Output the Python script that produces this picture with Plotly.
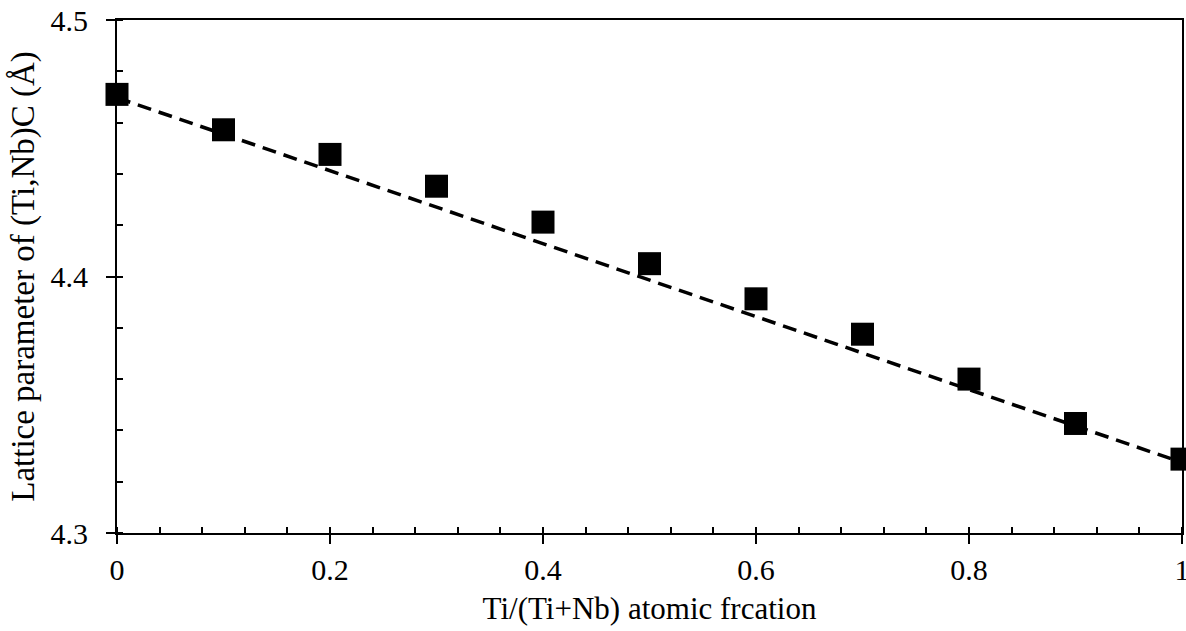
import plotly.graph_objects as go

# Data
ti_fraction = [0.0, 0.1, 0.2, 0.3, 0.4, 0.5, 0.6, 0.7, 0.8, 0.9, 1.0]
lattice_param = [4.4710, 4.4572, 4.4476, 4.4352, 4.4212, 4.4050, 4.3913, 4.3775, 4.3600, 4.3427, 4.3288]

# Dashed reference line (Vegard's law between end members)
vegard_x = [0.0, 1.0]
vegard_y = [4.4697, 4.3275]

# Tick values
x_ticks = [0, 0.2, 0.4, 0.6, 0.8, 1]
x_ticktext = ["0", "0.2", "0.4", "0.6", "0.8", "1"]
y_ticks = [4.3, 4.4, 4.5]
y_ticktext = ["4.3", "4.4", "4.5"]

FONT = "Liberation Serif"
BLACK = "#000000"

fig = go.Figure()

fig.add_trace(go.Scatter(
    x=vegard_x, y=vegard_y, mode="lines",
    line=dict(color=BLACK, width=3.5, dash="14px,8px"),
    showlegend=False, hoverinfo="skip",
))

fig.add_trace(go.Scatter(
    x=ti_fraction, y=lattice_param, mode="markers",
    marker=dict(symbol="square", size=23, color=BLACK, line=dict(width=0)),
    cliponaxis=False, showlegend=False,
))

# dummy trace to create overlay axes for the inner part of major ticks
fig.add_trace(go.Scatter(x=[None], y=[None], xaxis="x2", yaxis="y2",
                         showlegend=False, hoverinfo="skip"))

fig.update_layout(
    width=1186, height=631,
    margin=dict(l=117, r=4, t=20, b=98),
    paper_bgcolor="white", plot_bgcolor="white",
    font=dict(family=FONT, size=30, color=BLACK),
    xaxis=dict(
        range=[0, 1], tickmode="array", tickvals=x_ticks, ticktext=x_ticktext,
        automargin=False,
        showgrid=False, zeroline=False,
        showline=True, linecolor=BLACK, linewidth=2, mirror=True,
        ticks="outside", ticklen=9, tickwidth=2, tickcolor=BLACK,
        ticklabelstandoff=0, ticklabeloverflow="allow",
        minor=dict(tick0=0, dtick=0.04, ticks="inside", ticklen=6, tickwidth=2, tickcolor=BLACK, showgrid=False),
        tickfont=dict(family=FONT, size=30),
        title=dict(text="Ti/(Ti+Nb) atomic frcation", font=dict(family=FONT, size=31), standoff=12),
    ),
    yaxis=dict(
        range=[4.3, 4.5], tickmode="array", tickvals=y_ticks, ticktext=y_ticktext,
        automargin=False,
        showgrid=False, zeroline=False,
        showline=True, linecolor=BLACK, linewidth=2, mirror=True,
        ticks="outside", ticklen=9, tickwidth=2, tickcolor=BLACK,
        ticklabelstandoff=12, ticklabeloverflow="allow",
        minor=dict(tick0=4.3, dtick=0.02, ticks="inside", ticklen=6, tickwidth=2, tickcolor=BLACK, showgrid=False),
        tickfont=dict(family=FONT, size=30),
        title=dict(text="Lattice parameter of (Ti,Nb)C (Å)", font=dict(family=FONT, size=33), standoff=6),
    ),
    xaxis2=dict(
        overlaying="x", range=[0, 1], tickmode="array", tickvals=x_ticks,
        automargin=False,
        showgrid=False, zeroline=False, showline=False, showticklabels=False,
        ticks="inside", ticklen=6, tickwidth=2, tickcolor=BLACK, side="bottom",
    ),
    yaxis2=dict(
        overlaying="y", range=[4.3, 4.5], tickmode="array", tickvals=y_ticks,
        automargin=False,
        showgrid=False, zeroline=False, showline=False, showticklabels=False,
        ticks="inside", ticklen=6, tickwidth=2, tickcolor=BLACK, side="left",
    ),
)

fig.write_html("out.html")
